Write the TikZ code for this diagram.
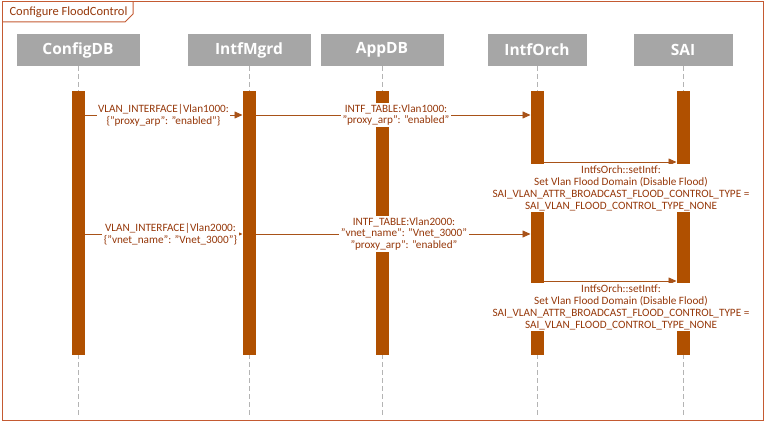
\documentclass[tikz,border=0pt]{standalone}
\usepackage{fontspec}
\setmainfont{Carlito}
\newfontfamily\headfont{Open Sans}
\usepackage{tikz}
\usetikzlibrary{positioning, arrows.meta}
\definecolor{framecol}{RGB}{196,90,50}
\definecolor{barcol}{RGB}{176,80,0}
\definecolor{msgcol}{RGB}{168,82,24}
\definecolor{txtcol}{RGB}{150,56,10}
\definecolor{headcol}{RGB}{166,166,166}
\definecolor{lifecol}{RGB}{180,180,180}
\tikzset{
	>={Triangle[length=8pt,width=7pt]}, % Punta de flecha rellena
	head/.style={fill=headcol, text=white, font=\headfont\bfseries\fontsize{15.5}{17}\selectfont,
		minimum height=32pt, inner sep=0pt, outer sep=0pt}, % Cabecera de cada participante
	wide/.style={head, minimum width=123pt}, % Cabecera ancha
	narrow/.style={head, minimum width=99pt}, % Cabecera estrecha
	bar/.style={fill=barcol, minimum width=13pt, minimum height=264pt, inner sep=0pt, outer sep=0pt}, % Barra de activacion
	life/.style={draw=lifecol, dash pattern=on 5pt off 3pt, line width=0.8pt}, % Linea de vida
	msg/.style={draw=msgcol, ->, line width=0.8pt}, % Mensaje
	lbl/.style={fill=white, text=txtcol, align=center, font=\fontsize{11.2}{11.9}\selectfont, inner sep=1.5pt}, % Texto del mensaje
	frame/.style={draw=framecol, line width=1pt} % Marco exterior
}

\begin{document}
\begin{tikzpicture}[x=1pt, y=-1pt]
	\useasboundingbox (0,0) rectangle (767,425);
	\draw[frame] (2,2) rectangle (763,420);
	\draw[frame] (2,22) -- (125,22) -- (133,14) -- (133,2);
	\node[text=txtcol, font=\fontsize{12.5}{14}\selectfont, anchor=west] (title) at (6,12) {Configure FloodControl};

	\node[wide] (cdb) at (78,50) {ConfigDB};
	\node[wide, right=48pt of cdb] (mgr) {IntfMgrd};
	\node[wide, right=10pt of mgr] (app) {AppDB};
	\node[narrow, right=44pt of app] (orch) {IntfOrch};
	\node[narrow, right=47pt of orch] (sai) {SAI};

	\coordinate (end) at (0,415);
	\coordinate (row1) at (0,115);
	\coordinate (row2) at (0,162);
	\coordinate (row3) at (0,234);
	\coordinate (row4) at (0,281);

	\foreach \n in {cdb,mgr,app,orch,sai}{
		\draw[life] (\n.south) -- (\n |- end);
		\node[bar, below=25pt of \n] (\n-bar) {};
	}

	\draw	(cdb-bar.east |- row1) edge[msg] node[lbl] {VLAN\_INTERFACE|Vlan1000:\\\{"proxy\_arp": "enabled"\}} (mgr-bar.west |- row1)
			(mgr-bar.east |- row1) edge[msg] node[lbl, xshift=3pt] {INTF\_TABLE:Vlan1000:\\"proxy\_arp": "enabled"} (orch-bar.west |- row1)
			(orch-bar.east |- row2) edge[msg] node[lbl, below=2pt, xshift=11pt] {IntfsOrch::setIntf:\\Set Vlan Flood Domain (Disable Flood)\\SAI\_VLAN\_ATTR\_BROADCAST\_FLOOD\_CONTROL\_TYPE =\\SAI\_VLAN\_FLOOD\_CONTROL\_TYPE\_NONE} (sai-bar.west |- row2)
			(cdb-bar.east |- row3) edge[msg] node[lbl, xshift=7pt] {VLAN\_INTERFACE|Vlan2000:\\\{"vnet\_name": "Vnet\_3000"\}} (mgr-bar.west |- row3)
			(mgr-bar.east |- row3) edge[msg] node[lbl, xshift=11pt] {INTF\_TABLE:Vlan2000:\\"vnet\_name": "Vnet\_3000"\\"proxy\_arp": "enabled"} (orch-bar.west |- row3)
			(orch-bar.east |- row4) edge[msg] node[lbl, below=2pt, xshift=11pt] {IntfsOrch::setIntf:\\Set Vlan Flood Domain (Disable Flood)\\SAI\_VLAN\_ATTR\_BROADCAST\_FLOOD\_CONTROL\_TYPE =\\SAI\_VLAN\_FLOOD\_CONTROL\_TYPE\_NONE} (sai-bar.west |- row4)
			;
\end{tikzpicture}
\end{document}
